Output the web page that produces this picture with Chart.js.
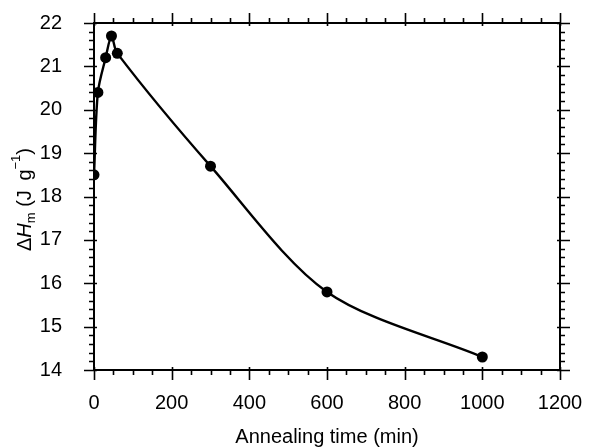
<!DOCTYPE html>
<html>
<head>
<meta charset="utf-8">
<script src="https://cdn.jsdelivr.net/npm/chart.js@4"></script>
<style>
  html, body { margin: 0; padding: 0; background: #fff; }
  #wrap { width: 603px; height: 447px; }
</style>
</head>
<body>
<div id="wrap"><canvas id="dhChart" width="603" height="447"></canvas></div>
<script>
'use strict';

// Data
const annealTimes = [0, 10, 30, 45, 60, 300, 600, 1000];      // min
const meltEnthalpy = [18.5, 20.4, 21.2, 21.7, 21.3, 18.7, 15.8, 14.3]; // J/g
const xTicks = [0, 200, 400, 600, 800, 1000, 1200];
const yTicks = [14, 15, 16, 17, 18, 19, 20, 21, 22];

const FONT = "'Liberation Sans', Arial, sans-serif";

// Frame + outward ticks on all four sides (majors cross the frame a little)
const frameTicks = {
  id: 'frameTicks',
  afterDraw(chart) {
    const { ctx, chartArea: a, scales: { x, y } } = chart;
    ctx.save();
    ctx.strokeStyle = '#000';
    ctx.lineWidth = 2;
    ctx.strokeRect(a.left, a.top, a.right - a.left, a.bottom - a.top);

    ctx.lineWidth = 1.6;
    ctx.beginPath();
    for (let v = 0; v <= 1200; v += 50) {
      const px = Math.round(x.getPixelForValue(v)) + 0.5;
      const major = v % 200 === 0;
      const len = major ? 10 : 5;
      const inn = major ? 3 : 0;
      ctx.moveTo(px, a.bottom - inn); ctx.lineTo(px, a.bottom + len);
      ctx.moveTo(px, a.top + inn); ctx.lineTo(px, a.top - len);
    }
    for (let i = 0; i <= 40; i++) {
      const v = 14 + i * 0.2;
      const py = Math.round(y.getPixelForValue(v)) + 0.5;
      const major = i % 5 === 0;
      const len = major ? 10 : 5;
      const inn = major ? 3 : 0;
      ctx.moveTo(a.left + inn, py); ctx.lineTo(a.left - len, py);
      ctx.moveTo(a.right - inn, py); ctx.lineTo(a.right + len, py);
    }
    ctx.stroke();

    // y axis title: ΔHm (J g−1)
    const size = 20;
    const parts = [
      { t: '\u0394', style: '', dy: 0, s: size },
      { t: 'H', style: 'italic ', dy: 0, s: size },
      { t: 'm', style: '', dy: 6, s: 13 },
      { t: ' (J\u2009 g', style: '', dy: 0, s: size },
      { t: '\u22121', style: '', dy: -9, s: 13 },
      { t: ')', style: '', dy: 0, s: size }
    ];
    let total = 0;
    parts.forEach(p => {
      ctx.font = p.style + p.s + 'px ' + FONT;
      p.w = ctx.measureText(p.t).width;
      total += p.w;
    });
    const cy = (a.top + a.bottom) / 2 + 3;
    ctx.translate(25, cy);
    ctx.rotate(-Math.PI / 2);
    ctx.fillStyle = '#000';
    ctx.textBaseline = 'middle';
    ctx.textAlign = 'left';
    let cx = -total / 2;
    parts.forEach(p => {
      ctx.font = p.style + p.s + 'px ' + FONT;
      ctx.fillText(p.t, cx, p.dy);
      cx += p.w;
    });
    ctx.restore();
  }
};

new Chart(document.getElementById('dhChart').getContext('2d'), {
  type: 'line',
  data: {
    datasets: [{
      data: annealTimes.map((t, i) => ({ x: t, y: meltEnthalpy[i] })),
      borderColor: '#000',
      backgroundColor: '#000',
      borderWidth: 2.4,
      pointRadius: 5.5,
      pointBackgroundColor: '#000',
      pointBorderWidth: 0,
      tension: 0.3,
      fill: false
    }]
  },
  options: {
    responsive: false,
    animation: false,
    layout: { padding: { left: 0, right: 43, top: 23, bottom: 0 } },
    plugins: { legend: { display: false }, tooltip: { enabled: false } },
    scales: {
      x: {
        type: 'linear',
        min: 0, max: 1200,
        afterBuildTicks: s => { s.ticks = xTicks.map(v => ({ value: v })); },
        afterFit: s => { s.height = 77; s.paddingLeft = 0; s.paddingRight = 0; },
        grid: { display: false },
        border: { display: false },
        ticks: { color: '#000', padding: 13, font: { family: FONT, size: 20 }, callback: v => String(v) },
        title: { display: true, text: 'Annealing time (min)', color: '#000', padding: { top: 0, bottom: 0 }, font: { family: FONT, size: 20, lineHeight: 1 } }
      },
      y: {
        type: 'linear',
        min: 14, max: 22,
        afterBuildTicks: s => { s.ticks = yTicks.map(v => ({ value: v })); },
        afterFit: s => { s.width = 94; s.paddingTop = 0; s.paddingBottom = 0; },
        grid: { display: false },
        border: { display: false },
        ticks: { color: '#000', padding: 24, font: { family: FONT, size: 20 }, callback: v => String(v) }
      }
    }
  },
  plugins: [frameTicks]
});
</script>
</body>
</html>
